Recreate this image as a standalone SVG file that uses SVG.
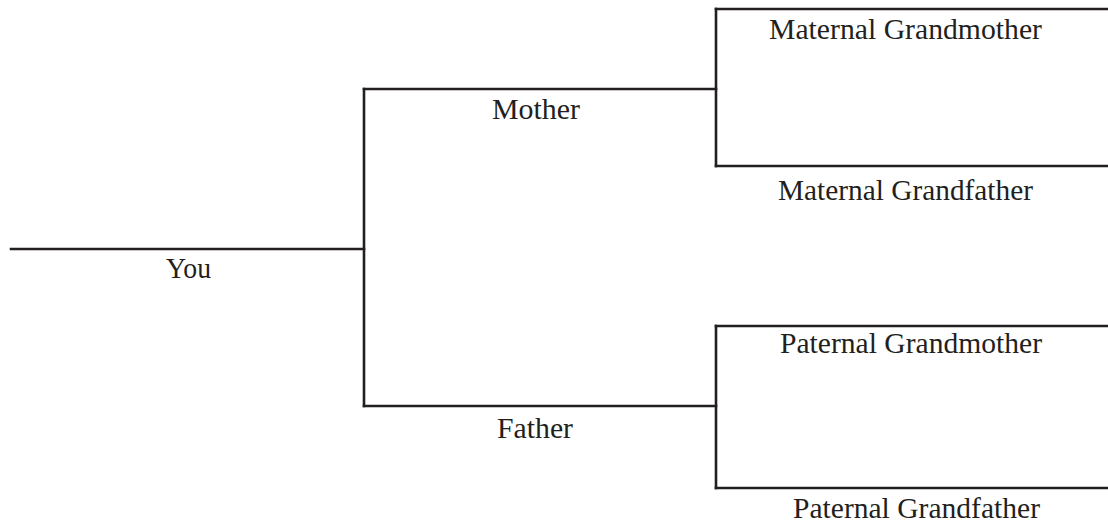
<svg xmlns="http://www.w3.org/2000/svg" width="1108" height="523" viewBox="0 0 1108 523">
<style>
.ln{stroke:#231f20;stroke-width:2.6;fill:none;stroke-linecap:square}
.lb{font-family:"Liberation Serif","Times New Roman",serif;font-size:28.5px;fill:#231f20;text-anchor:start}
</style>
<rect width="1108" height="523" fill="#fff"/>
<g id="connectors">
<path class="ln" d="M11,249 H364"/>
<path class="ln" d="M364,89 V406"/>
<path class="ln" d="M364,89 H716"/>
<path class="ln" d="M364,406 H716"/>
<path class="ln" d="M716,9 V166"/>
<path class="ln" d="M716,9 H1108"/>
<path class="ln" d="M716,166 H1108"/>
<path class="ln" d="M716,326 V488"/>
<path class="ln" d="M716,326 H1108"/>
<path class="ln" d="M716,488 H1108"/>
</g>
<g id="you"><text class="lb" x="166" y="278" textLength="45" lengthAdjust="spacingAndGlyphs">You</text></g>
<g id="mother"><text class="lb" x="492" y="119" textLength="88" lengthAdjust="spacingAndGlyphs">Mother</text></g>
<g id="father"><text class="lb" x="497" y="438" textLength="76" lengthAdjust="spacingAndGlyphs">Father</text></g>
<g id="maternal-grandmother"><text class="lb" x="769" y="39" textLength="273" lengthAdjust="spacingAndGlyphs">Maternal Grandmother</text></g>
<g id="maternal-grandfather"><text class="lb" x="778" y="200" textLength="255" lengthAdjust="spacingAndGlyphs">Maternal Grandfather</text></g>
<g id="paternal-grandmother"><text class="lb" x="780" y="353" textLength="262" lengthAdjust="spacingAndGlyphs">Paternal Grandmother</text></g>
<g id="paternal-grandfather"><text class="lb" x="793" y="518" textLength="247" lengthAdjust="spacingAndGlyphs">Paternal Grandfather</text></g>
</svg>
